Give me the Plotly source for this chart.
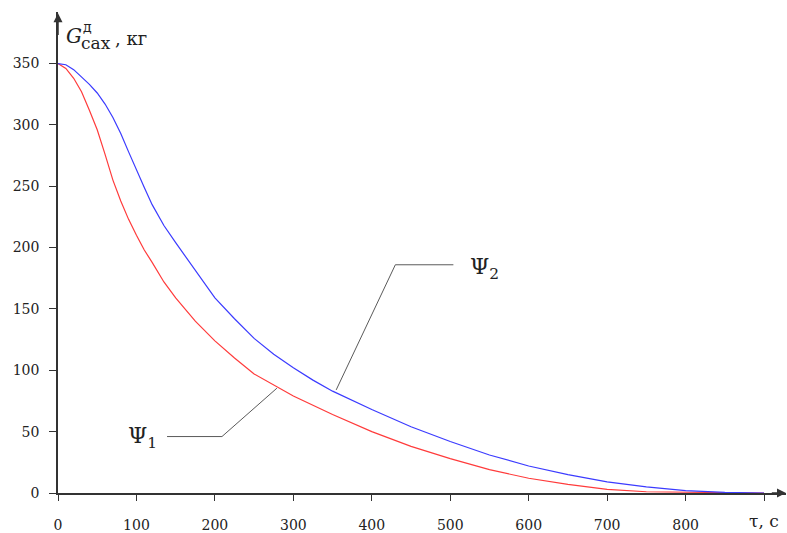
import plotly.graph_objects as go

# ---- data ----
tau1 = [0, 10, 20, 30, 40, 50, 60, 70, 80, 90, 100, 110, 120, 135, 150, 175,
        200, 225, 250, 275, 300, 350, 400, 450, 500, 550, 600, 650, 700, 750,
        800, 850, 900]
psi1 = [350, 346, 338, 327, 312, 296, 276, 255, 238, 223, 210, 198, 188, 172,
        159, 140, 124, 110, 97, 88, 79, 64, 50, 38, 28, 19, 12, 7, 3, 1,
        0.5, 0, 0]
tau2 = [0, 10, 20, 30, 40, 50, 60, 70, 80, 90, 100, 110, 120, 135, 150, 160, 175,
        200, 225, 250, 275, 300, 325, 350, 400, 450, 500, 550, 600, 650, 700,
        750, 800, 850, 900]
psi2 = [350, 349, 345, 339, 333, 326, 317, 306, 293, 278, 263, 249, 235, 218, 204, 195,
        181, 159, 142, 126, 113, 102, 92, 83, 68, 54, 42, 31, 22, 15, 9,
        5, 2, 0.5, 0]
x_ticks = [0, 100, 200, 300, 400, 500, 600, 700, 800, 900]
x_ticktext = ["0", "100", "200", "300", "400", "500", "600", "700", "800", ""]
y_ticks = [0, 50, 100, 150, 200, 250, 300, 350]

# leader-line vertices for the curve labels (data coords)
lead1_x = [279, 209, 139]
lead1_y = [85.4, 46, 46]
lead2_x = [354.6, 430, 504]
lead2_y = [84, 186, 186]

X_MAX = 928
Y_MAX = 392
SERIF = "DejaVu Serif"
AX_COL = "#333333"
TXT = "#222222"

fig = go.Figure()
fig.add_trace(go.Scatter(x=tau1, y=psi1, mode="lines", line=dict(color="#ff3b3b", width=1.2),
                         hoverinfo="skip", showlegend=False))
fig.add_trace(go.Scatter(x=tau2, y=psi2, mode="lines", line=dict(color="#3b3bff", width=1.2),
                         hoverinfo="skip", showlegend=False))

# leader lines
for lx, ly in ((lead1_x, lead1_y), (lead2_x, lead2_y)):
    fig.add_trace(go.Scatter(x=lx, y=ly, mode="lines", line=dict(color="#5a5a5a", width=1),
                             hoverinfo="skip", showlegend=False))

fig.update_layout(
    width=787, height=533,
    margin=dict(l=58, r=1, t=12, b=40, autoexpand=False),
    paper_bgcolor="white", plot_bgcolor="white",
    font=dict(family=SERIF, size=14, color=TXT),
    xaxis=dict(range=[0, X_MAX], showgrid=False, zeroline=False, showline=True,
               linecolor=AX_COL, linewidth=1.5, ticks="outside", ticklen=6,
               tickcolor=AX_COL, tickwidth=1, tickvals=x_ticks, ticktext=x_ticktext,
               ticklabelstandoff=12, tickfont=dict(family=SERIF, size=14, color=TXT)),
    yaxis=dict(range=[0, Y_MAX], showgrid=False, zeroline=False, showline=True,
               linecolor=AX_COL, linewidth=1.5, ticks="outside", ticklen=7,
               tickcolor=AX_COL, tickwidth=1, tickvals=y_ticks,
               ticklabelstandoff=7, tickfont=dict(family=SERIF, size=14, color=TXT)),
)

# axis arrows
fig.add_annotation(x=X_MAX, y=0, ax=X_MAX - 20, ay=0, xref="x", yref="y", axref="x", ayref="y",
                   showarrow=True, arrowhead=2, arrowsize=1.2, arrowwidth=1.5, arrowcolor=AX_COL, text="")
fig.add_annotation(x=0, y=Y_MAX - 1, ax=0, ay=Y_MAX - 20, xref="x", yref="y", axref="x", ayref="y",
                   showarrow=True, arrowhead=2, arrowsize=1.2, arrowwidth=1.5, arrowcolor=AX_COL, text="")

def px(xp):
    return (xp - 58) / 728.0

def py(yp):
    return (493 - yp) / 481.0

def label(xp, yp, text, size, family=SERIF):
    fig.add_annotation(x=px(xp), y=py(yp), xref="paper", yref="paper", showarrow=False,
                       xanchor="left", yanchor="middle", text=text,
                       font=dict(family=family, size=size, color=TXT))

# y-axis title pieces
label(64, 36, "<i>G</i>", 20)
label(81, 27, "д", 14)
label(79, 43, "сах", 17)
label(113, 39, ", кг", 18)

# x-axis title
label(747, 521, "τ, с", 17)

# curve labels
label(126, 437, "Ψ<sub>1</sub>", 22)
label(468, 268, "Ψ<sub>2</sub>", 22)

fig.write_html("out.html", config={"displayModeBar": False},
               post_script="document.body.style.margin='0';")
